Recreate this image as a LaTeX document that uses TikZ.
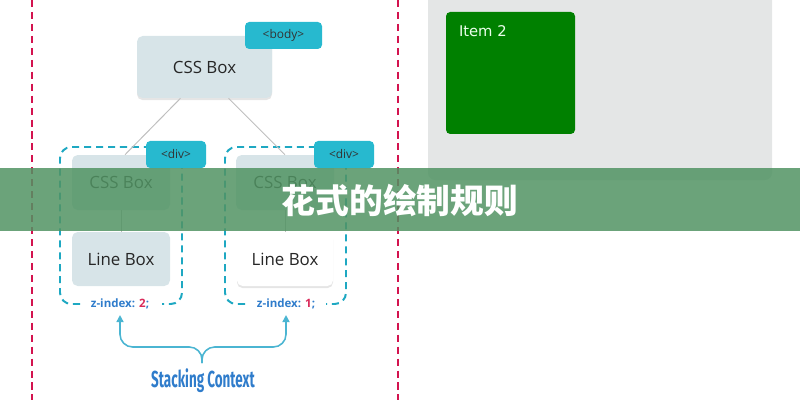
\documentclass[tikz,border=0pt]{standalone}
\usepackage{fontspec}
\setmainfont{Open Sans}
\newfontfamily\cjkfont{Noto Sans CJK SC}
\newfontfamily\itemfont{DejaVu Sans}
\newfontfamily\condfont[FakeStretch=0.58]{Fira Sans}
\usetikzlibrary{arrows.meta,shadows}
\definecolor{boxgray}{HTML}{D7E4E8}
\definecolor{tagcyan}{HTML}{27B9CF}
\definecolor{dashcyan}{HTML}{1EA8C2}
\definecolor{guide}{HTML}{D3134F}
\definecolor{zblue}{HTML}{2F7CCB}
\definecolor{zred}{HTML}{D92A5A}
\definecolor{bracecyan}{HTML}{4BB5D2}
\definecolor{panel}{HTML}{E4E6E6}
\definecolor{itemgreen}{HTML}{008000}
\definecolor{banner}{RGB}{81,147,99}

\begin{document}
\begin{tikzpicture}[x=0.025cm,y=-0.025cm,>={Triangle[length=5pt,width=5pt]},
  sz/.style 2 args={minimum width=#1*0.025cm,minimum height=#2*0.025cm},
  softshadow/.style={drop shadow={shadow xshift=0pt,shadow yshift=-1.5pt,opacity=0.10,fill=black}},
  cssbox/.style={fill=boxgray,rounded corners=4pt,inner sep=0pt,font=\fontsize{12}{14}\selectfont,text=black!85},
  tag/.style={fill=tagcyan,rounded corners=3pt,inner sep=0pt,sz={60}{27},font=\fontsize{8.5}{10}\selectfont,text=black!80},
  ctxline/.style={dashcyan,line width=1.4pt,dash pattern=on 5pt off 3.5pt,rounded corners=8pt},
  guideline/.style={guide,line width=1.4pt,dash pattern=on 5pt off 3.5pt},
  link/.style={black!25,line width=0.7pt},
  zlabel/.style={font=\bfseries\fontsize{8.2}{10}\selectfont,text=zblue,inner sep=1pt},
  bracepath/.style={bracecyan,line width=1.1pt,rounded corners=9pt,shorten >=3pt}]
\useasboundingbox (0,0) rectangle (800,400);

% page guides
\draw[guideline] (32,0) -- (32,400);
\draw[guideline] (398,0) -- (398,400);

% flex container with its item
\fill[panel,rounded corners=5pt] (428,-10) rectangle (772,180);
\node[fill=itemgreen,rounded corners=3pt,sz={129}{122},inner sep=0pt] (item) at (510.5,73) {};
\node[anchor=north west,text=green!8,font=\itemfont\fontsize{10.5}{12}\selectfont,inner sep=0pt] (itemlbl) at ([shift={(13,14)}]item.north west) {Item 2};

% root box
\node[cssbox,softshadow,sz={135}{62}] (css) at (204.5,67) {CSS Box};
\node[tag,sz={77}{27}] (body) at (283.5,35.5) {<body>};

% left stacking context
\draw[ctxline] (80,304) -- (60,304) -- (60,147) -- (182,147) -- (182,304) -- (162,304);
\node[cssbox,sz={98}{55}] (cssL) at (121,182.5) {CSS Box};
\node[cssbox,sz={98}{54}] (lineL) at (121,259) {Line Box};
\draw[link] (cssL) -- (lineL);
\node[tag] (divL) at (176,154.5) {<div>};
\node[zlabel] (zL) at (120,304) {z-index: \textcolor{zred}{2};};

% right stacking context
\draw[ctxline] (245,304) -- (225,304) -- (225,147) -- (346,147) -- (346,304) -- (326,304);
\node[cssbox,sz={98}{55}] (cssR) at (285,182.5) {CSS Box};
\node[cssbox,fill=white,softshadow,sz={96}{54}] (lineR) at (285,259) {Line Box};
\draw[link] (cssR) -- (lineR);
\node[tag] (divR) at (344,154.5) {<div>};
\node[zlabel] (zR) at (286,304) {z-index: \textcolor{zred}{1};};

% tree links
\draw[link] ([xshift=-0.6cm]css.south) -- ([xshift=0.1cm]cssL.north);
\draw[link] ([xshift=0.6cm]css.south) -- (cssR.north);

% brace pointing at both z-index values
\node[font=\condfont\bfseries\fontsize{16.5}{18}\selectfont,text=zblue] (ctx) at (203,381) {Stacking Context};
\coordinate (tip) at (202,363);
\draw[bracepath,->] (tip) -- (202,347) -| (zL.south);
\draw[bracepath,->] (tip) -- (202,347) -| (zR.south);

% title banner
\fill[banner,opacity=0.85] (0,168) rectangle (800,231);
\node[font=\cjkfont\bfseries\fontsize{24}{28}\selectfont,text=white] (title) at (400,201) {花式的绘制规则};
\end{tikzpicture}
\end{document}
